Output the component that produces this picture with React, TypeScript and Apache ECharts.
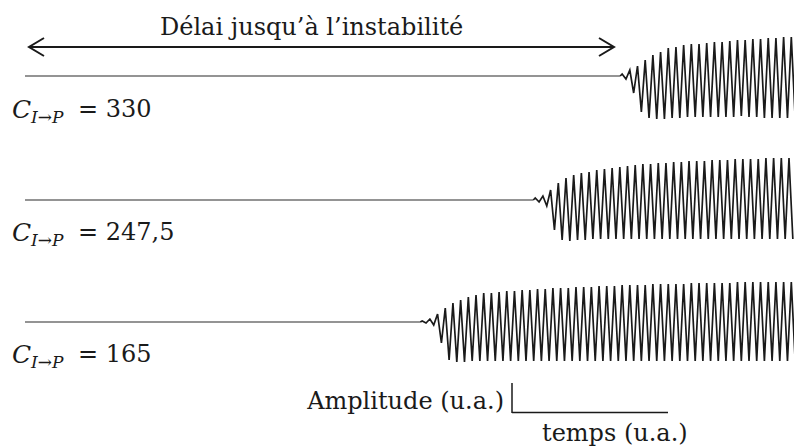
import React, { useEffect, useRef } from "react";
import * as echarts from "echarts";

// Time axis (u.a.), period of the oscillation (u.a.)
const TIME_MIN = 0;
const TIME_MAX = 100;
const PERIOD = 1.0;
const AMP_MIN = -50;
const AMP_MAX = 50;

// Coupling values shown beside each trace
const couplingLabels = ["330", "247,5", "165"];
// Time at which each trace leaves the flat baseline
const onsets = [77.4, 66.1, 51.4];

// Upper / lower extrema of each cycle (u.a.)
const tops1 = [2, 6, 10, 16, 21, 24, 28, 29, 31, 32, 32, 33, 34, 34, 35, 36, 36, 37, 37, 38, 38, 39, 39];
const bottoms1 = [-3, -17, -36, -42, -43, -43, -42, -42, -41, -41, -41, -41, -41, -41, -41, -40, -41, -41, -42, -42, -42, -42, -42];

const tops2 = [2, 4, 10, 17, 22, 25, 27, 28, 30, 31, 32, 33, 34, 35, 36, 36, 37, 37, 38, 38, 39, 39, 39, 40, 40, 40, 41, 41, 41, 41, 42, 42, 42, 42];
const bottoms2 = [-2, -6, -30, -40, -41, -40, -40, -39, -39, -39, -39, -39, -39, -39, -39, -39, -39, -39, -39, -39, -39, -39, -39, -39, -39, -39, -39, -39, -39, -39, -39, -39, -39, -39];

const tops3 = [1, 3, 8, 14, 19, 22, 25, 27, 29, 29, 30, 31, 31, 32, 32, 33, 33, 34, 34, 34, 35, 35, 35, 36, 36, 36, 37, 37, 37, 37, 38, 38, 38, 38, 38, 39, 39, 39, 39, 39, 39, 40, 40, 40, 40, 40, 40, 40, 40];
const bottoms3 = [-1, -3, -21, -38, -40, -40, -39, -39, -39, -39, -39, -39, -39, -39, -39, -39, -39, -39, -39, -39, -39, -39, -39, -39, -39, -39, -39, -39, -39, -39, -39, -39, -39, -39, -39, -39, -39, -39, -39, -39, -39, -39, -39, -39, -39, -39, -39, -39, -39];

const traceTops = [tops1, tops2, tops3];
const traceBottoms = [bottoms1, bottoms2, bottoms3];

const title = "Délai jusqu’à l’instabilité";
const ampLabel = "Amplitude (u.a.)";
const timeLabel = "temps (u.a.)";

function buildFlat(onset: number) {
  return [
    [TIME_MIN, 0],
    [onset, 0],
  ];
}

function buildOscillation(onset: number, tops: number[], bottoms: number[]) {
  const pts: [number, number][] = [[onset, 0]];
  for (let k = 0; k < tops.length; k++) {
    pts.push([onset + (k + 0.25) * PERIOD, tops[k]]);
    pts.push([onset + (k + 0.75) * PERIOD, bottoms[k]]);
  }
  return pts;
}

const FONT = "'DejaVu Serif', serif";
const INK = "#1a1a1a";

export default function App() {
  const ref = useRef<HTMLDivElement>(null);

  useEffect(() => {
    if (!ref.current) return;
    const chart = echarts.init(ref.current, undefined, { renderer: "svg" });

    const gridTops = [26, 150, 272];
    const labelMid = [109, 232, 354];

    const grids = gridTops.map((t) => ({ left: 25, right: 0, top: t, height: 100 }));
    const xAxes = gridTops.map((_, i) => ({
      type: "value",
      gridIndex: i,
      min: TIME_MIN,
      max: TIME_MAX,
      show: false,
    }));
    const yAxes = gridTops.map((_, i) => ({
      type: "value",
      gridIndex: i,
      min: AMP_MIN,
      max: AMP_MAX,
      show: false,
    }));
    const series: any[] = [];
    onsets.forEach((o, i) => {
      series.push({
        type: "line",
        xAxisIndex: i,
        yAxisIndex: i,
        data: buildFlat(o),
        showSymbol: false,
        symbol: "none",
        lineStyle: { color: "#2a2a2a", width: 1.1 },
      });
      series.push({
        type: "line",
        xAxisIndex: i,
        yAxisIndex: i,
        data: buildOscillation(o, traceTops[i], traceBottoms[i]),
        showSymbol: false,
        symbol: "none",
        clip: true,
        lineStyle: { color: INK, width: 1.7, join: "miter", miterLimit: 4 },
      });
    });

    const txt = (
      text: string,
      x: number,
      y: number,
      size: number,
      align: string,
      italic = false
    ) => ({
      type: "text",
      x,
      y,
      silent: true,
      style: {
        text,
        fill: INK,
        fontSize: size,
        fontFamily: FONT,
        fontStyle: italic ? "italic" : "normal",
        align,
        textAlign: align,
        verticalAlign: "middle",
        textVerticalAlign: "middle",
      },
    });

    const graphics: any[] = [];
    // arrow
    graphics.push({
      type: "line",
      shape: { x1: 29, y1: 47, x2: 614, y2: 47 },
      style: { stroke: INK, lineWidth: 2 },
    });
    graphics.push({
      type: "polyline",
      shape: { points: [[44, 38], [29, 47], [44, 56]] },
      style: { stroke: INK, lineWidth: 2, fill: null },
    });
    graphics.push({
      type: "polyline",
      shape: { points: [[599, 38], [614, 47], [599, 56]] },
      style: { stroke: INK, lineWidth: 2, fill: null },
    });
    graphics.push(txt(title, 160, 27, 24, "left"));

    // labels
    couplingLabels.forEach((lab, i) => {
      const y = labelMid[i];
      graphics.push(txt("C", 12, y, 25, "left", true));
      graphics.push(txt("I→P", 31, y + 8, 17, "left", true));
      graphics.push(txt("= " + lab, 78, y, 24, "left"));
    });

    // scale bars
    graphics.push({
      type: "line",
      shape: { x1: 512, y1: 383, x2: 512, y2: 413 },
      style: { stroke: INK, lineWidth: 1.5 },
    });
    graphics.push({
      type: "line",
      shape: { x1: 512, y1: 412.5, x2: 668, y2: 412.5 },
      style: { stroke: INK, lineWidth: 1.5 },
    });
    graphics.push(txt(ampLabel, 504, 401, 24, "right"));
    graphics.push(txt(timeLabel, 542, 433, 24, "left"));

    chart.setOption({
      animation: false,
      backgroundColor: "#ffffff",
      grid: grids,
      xAxis: xAxes,
      yAxis: yAxes,
      series,
      graphic: { elements: graphics },
    });

    return () => chart.dispose();
  }, []);

  return (
    <div
      ref={ref}
      style={{ position: "fixed", left: 0, top: 0, width: 794, height: 448, background: "#fff" }}
    />
  );
}
